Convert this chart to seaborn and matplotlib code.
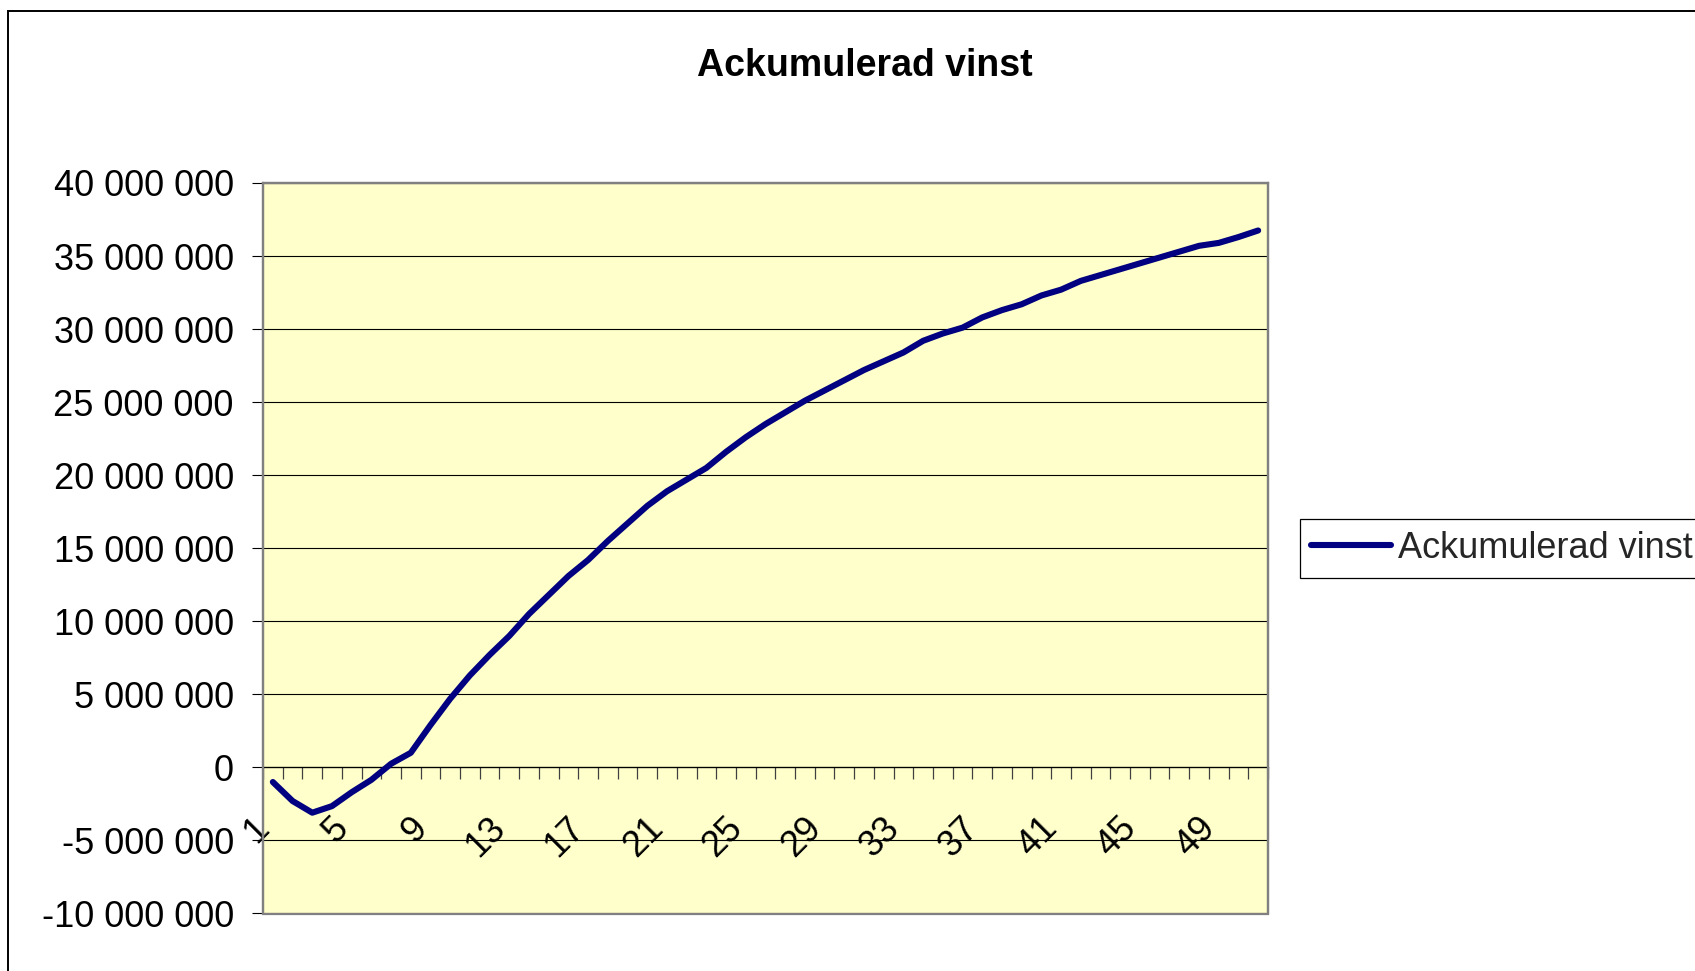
import numpy as np
import pandas as pd
import matplotlib
matplotlib.use("Agg")
import matplotlib.pyplot as plt
import matplotlib.patches as mpatches
import matplotlib.transforms as mtransforms
from matplotlib.ticker import FuncFormatter, FixedLocator
import seaborn as sns

# ---------------- data ----------------
periods = list(range(1, 52))
vinst_milj = [
    -1.0, -2.3, -3.1, -2.65, -1.7, -0.85, 0.25, 1.0, 2.9, 4.7,
    6.3, 7.7, 9.0, 10.5, 11.8, 13.1, 14.2, 15.5, 16.7, 17.9,
    18.9, 19.7, 20.5, 21.6, 22.6, 23.5, 24.3, 25.1, 25.8, 26.5,
    27.2, 27.8, 28.4, 29.2, 29.7, 30.1, 30.8, 31.3, 31.7, 32.3,
    32.7, 33.3, 33.7, 34.1, 34.5, 34.9, 35.3, 35.7, 35.9, 36.3,
    36.75,
]
series_name = "Ackumulerad vinst"
title_text = "Ackumulerad vinst"
y_ticks = [-10e6, -5e6, 0, 5e6, 10e6, 15e6, 20e6, 25e6, 30e6, 35e6, 40e6]
x_label_positions = list(range(1, 52, 4))

df = pd.DataFrame({"period": periods,
                   "vinst": [v * 1e6 for v in vinst_milj]})

# ---------------- style ----------------
sns.set_theme(style="white")
plt.rcParams["font.family"] = ["Liberation Sans", "DejaVu Sans"]

W, H = 1695, 971
fig = plt.figure(figsize=(W / 100, H / 100), dpi=100)
fig.patch.set_facecolor("white")

left, right, top, bottom = 263 / W, 1268 / W, 1 - 183 / H, 1 - 913.5 / H
ax = fig.add_axes([left, bottom, right - left, top - bottom])
ax.set_facecolor("#FFFFCC")

LW = 4.4
sns.lineplot(data=df, x="period", y="vinst", ax=ax, color="#000080",
             linewidth=LW, label=series_name, zorder=4,
             solid_capstyle="round", solid_joinstyle="round")

ax.set_xlim(0.5, 51.5)
ax.set_ylim(-10e6, 40e6)
ax.set_xlabel("")
ax.set_ylabel("")

# y axis
ax.yaxis.set_major_locator(FixedLocator(y_ticks))
ax.yaxis.set_major_formatter(
    FuncFormatter(lambda v, p: f"{v:,.0f}".replace(",", " ")))
ax.tick_params(axis="y", which="major", direction="out", length=8,
               width=0.8, color="black", pad=13, labelsize=26,
               labelcolor="black", left=True)
ax.yaxis.grid(True, color="black", linewidth=0.8)
ax.xaxis.grid(False)
ax.set_axisbelow(True)

# spines
for s in ["top", "left", "right"]:
    ax.spines[s].set_color("#808080")
    ax.spines[s].set_linewidth(1.6)
ax.spines["bottom"].set_position(("data", 0))
ax.spines["bottom"].set_color("black")
ax.spines["bottom"].set_linewidth(0.9)
ax.spines["bottom"].set_zorder(3)

# frame of the plot area (bottom edge)
frame = mpatches.Rectangle((0, 0), 1, 1, transform=ax.transAxes, fill=False,
                           edgecolor="#808080", linewidth=1.6, zorder=5,
                           clip_on=False)
ax.add_patch(frame)

# x axis: tick marks between categories, labels at every 4th category
ax.xaxis.set_major_locator(FixedLocator(np.arange(0.5, 52, 1.0)))
ax.xaxis.set_minor_locator(FixedLocator(x_label_positions))
ax.set_xticklabels([], minor=False)
ax.set_xticklabels([str(p) for p in x_label_positions], minor=True,
                   rotation=45, ha="right", va="center",
                   rotation_mode="anchor")
ax.tick_params(axis="x", which="major", direction="out", length=8.6,
               width=0.9, color="#404040", bottom=True, labelbottom=False)
ax.tick_params(axis="x", which="minor", length=0, pad=40,
               labelsize=26, labelcolor="black", bottom=True)
offset = mtransforms.ScaledTranslation(-9 / 100, 0, fig.dpi_scale_trans)
for lab in ax.get_xticklabels(minor=True):
    lab.set_transform(lab.get_transform() + offset)

# legend
leg = ax.legend(loc="center left", bbox_to_anchor=(1299.5 / W, 1 - 548.5 / H),
                bbox_transform=fig.transFigure, fontsize=26, frameon=True,
                fancybox=False, shadow=False, framealpha=1,
                edgecolor="black", borderpad=0.32, handlelength=2.2,
                handletextpad=0.22, borderaxespad=0)
leg.get_frame().set_linewidth(0.9)
for line in leg.get_lines():
    line.set_linewidth(LW)

# title
fig.text(865 / W, 1 - 75.5 / H, title_text, ha="center", va="baseline",
         fontsize=27, fontweight="bold", color="black")

# outer chart border
border = mpatches.Rectangle((8 / W, -0.05), 1.2, 1 - 11 / H + 0.05,
                            transform=fig.transFigure, fill=False,
                            edgecolor="black", linewidth=1.4)
fig.add_artist(border)

fig.savefig("out.png", dpi=100, facecolor="white")
